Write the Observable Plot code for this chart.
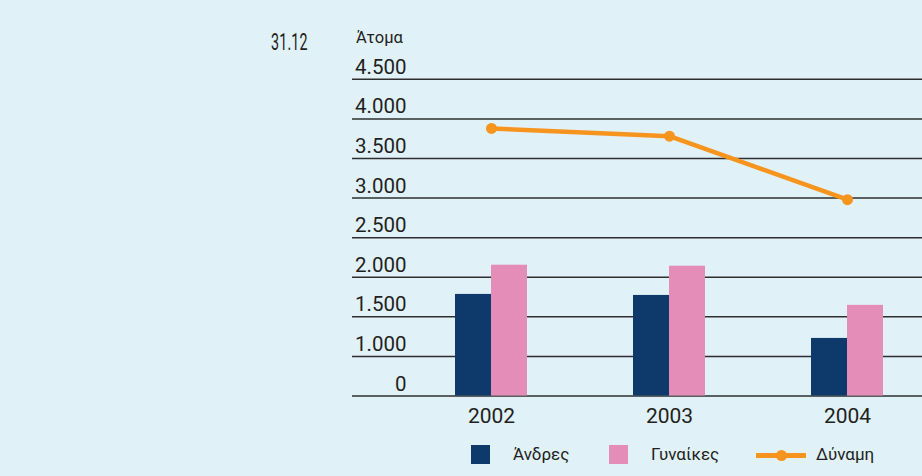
<!DOCTYPE html>
<html>
<head>
<meta charset="utf-8">
<script src="https://cdn.jsdelivr.net/npm/d3@7"></script>
<script src="https://cdn.jsdelivr.net/npm/@observablehq/plot@0.6"></script>
<style>
  html, body { margin: 0; padding: 0; background: #e0f1f8; }
  #wrap { position: relative; width: 922px; height: 476px; background: #e0f1f8; font-family: Roboto, "Noto Sans", sans-serif; color: #231f20; overflow: hidden; }
  #date { position: absolute; left: 271px; top: 29px; font-size: 23px; letter-spacing: 0.3px; transform: scaleX(0.62); transform-origin: 0 0; white-space: nowrap; }
  #unit { position: absolute; left: 356px; top: 28px; font-size: 16.5px; }
  #chart { position: absolute; left: 0; top: 0; }
  #legend { position: absolute; left: 0; top: 444px; width: 922px; height: 22px; font-size: 17px; }
  .sw { position: absolute; top: 1px; width: 19px; height: 19px; }
  .lt { position: absolute; top: 0; line-height: 20px; }
</style>
</head>
<body>
<div id="wrap">
  <div id="date">31.12</div>
  <div id="unit">Άτομα</div>
  <div id="chart"></div>
  <div id="legend"></div>
</div>
<script>
const years = ["2002", "2003", "2004"];
const men = [1783, 1770, 1227];
const women = [2152, 2139, 1645];
const force = [3879, 3781, 2980];
const yTicks = [0, 1000, 1500, 2000, 2500, 3000, 3500, 4000, 4500];
const seriesNames = ["Άνδρες", "Γυναίκες", "Δύναμη"];
const colors = ["#0d396b", "#e48db9", "#f7941d"];

const rows = years.map((y, i) => ({year: y, men: men[i], women: women[i], force: force[i]}));
const el = d3.formatLocale({decimal: ",", thousands: ".", grouping: [3], currency: ["", "€"]});
const fmt = el.format(",");

// the reference axis is broken: 0→1000 takes the same space as one 500 step
const brokenAxis = v => (v < 1000 ? 500 + v / 2 : v);

const chart = Plot.plot({
  width: 922,
  height: 434,
  marginLeft: 352,
  marginRight: 0,
  marginTop: 78.8,
  marginBottom: 38.5,
  style: {background: "transparent", fontFamily: "Roboto, 'Noto Sans', sans-serif", overflow: "visible"},
  x: {domain: years, range: [454.5, 883.5], paddingInner: 0.597, paddingOuter: 0},
  y: {type: "linear", transform: brokenAxis, domain: [500, 4500]},
  marks: [
    Plot.ruleY(yTicks, {stroke: "#2e2e2e", strokeWidth: 1.5}),
    Plot.barY(rows, {x: "year", y: "men", fill: colors[0], insetRight: 36}),
    Plot.barY(rows, {x: "year", y: "women", fill: colors[1], insetLeft: 36}),
    Plot.line(rows, {x: "year", y: "force", stroke: colors[2], strokeWidth: 4.5}),
    Plot.dot(rows, {x: "year", y: "force", fill: colors[2], r: 5.5}),
    Plot.axisY(yTicks, {anchor: "left", tickSize: 0, tickPadding: -54, dy: -12, tickFormat: d => fmt(d), fontSize: 20.5, fill: "#231f20", label: null}),
    Plot.axisX({anchor: "bottom", tickSize: 0, tickPadding: 12, fontSize: 21, fill: "#231f20", label: null})
  ]
});
document.getElementById("chart").appendChild(chart);

// legend
const legend = document.getElementById("legend");
const items = [
  {name: seriesNames[0], color: colors[0], kind: "sq", x: 471, tx: 513},
  {name: seriesNames[1], color: colors[1], kind: "sq", x: 609, tx: 651},
  {name: seriesNames[2], color: colors[2], kind: "ln", x: 756, tx: 816}
];
for (const it of items) {
  if (it.kind === "sq") {
    const s = document.createElement("div");
    s.className = "sw"; s.style.left = it.x + "px"; s.style.background = it.color;
    legend.appendChild(s);
  } else {
    const l = document.createElement("div");
    l.style.cssText = `position:absolute;left:${it.x}px;top:8.5px;width:50px;height:5px;background:${it.color}`;
    legend.appendChild(l);
    const d = document.createElement("div");
    d.style.cssText = `position:absolute;left:${it.x + 20}px;top:5.5px;width:11px;height:11px;border-radius:50%;background:${it.color}`;
    legend.appendChild(d);
  }
  const t = document.createElement("div");
  t.className = "lt"; t.style.left = it.tx + "px"; t.textContent = it.name;
  legend.appendChild(t);
}
</script>
</body>
</html>
